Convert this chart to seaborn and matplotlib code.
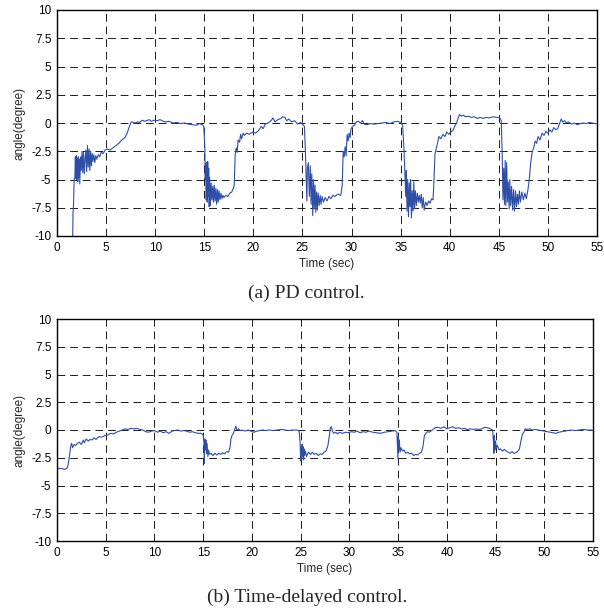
import pandas as pd
import matplotlib
matplotlib.use("Agg")
import matplotlib.pyplot as plt
import seaborn as sns


# (time, angle) samples
pd_points = [
    (1.60, -10.0), (1.63, -8.0), (1.68, -7.3), (1.75, -5.0), (1.82, -4.8), (1.87, -3.0), (1.92, -4.9),
    (1.97, -2.9), (2.02, -5.0), (2.07, -3.1), (2.12, -5.2), (2.17, -3.0), (2.22, -4.8), (2.27, -3.2),
    (2.32, -5.4), (2.40, -3.0), (2.47, -4.2), (2.55, -2.5), (2.62, -4.4), (2.70, -2.6), (2.78, -4.5),
    (2.86, -3.2), (2.94, -2.4), (3.02, -4.3), (3.10, -2.0), (3.18, -3.9), (3.26, -2.3), (3.34, -4.2),
    (3.42, -2.5), (3.50, -3.8), (3.58, -2.7), (3.66, -3.4), (3.75, -2.8), (3.85, -3.5), (3.95, -2.9),
    (4.05, -3.2), (4.2, -2.8), (4.35, -3.0), (4.5, -2.6), (4.7, -2.7), (4.9, -2.4), (5.1, -2.3),
    (5.4, -2.4), (5.7, -2.2), (6.0, -2.0), (6.3, -1.8), (6.6, -1.5), (6.9, -1.3), (7.1, -1.0),
    (7.3, -0.5), (7.5, 0.0), (7.6, 0.1), (7.8, 0.05), (8.0, 0.0), (8.2, 0.1), (8.4, 0.05), (8.7, 0.25),
    (8.9, 0.15), (9.1, 0.2), (9.4, 0.3), (9.6, 0.15), (9.9, 0.25), (10.2, 0.2), (10.5, 0.3), (10.8, 0.15),
    (11.1, 0.1), (11.4, 0.15), (11.8, 0.0), (12.2, 0.05), (12.6, -0.05), (13.0, 0.0), (13.4, -0.1),
    (13.8, -0.15), (14.2, -0.2), (14.5, -0.05), (14.8, -0.15), (14.95, -0.3),
    (15.05, -2.0), (15.1, -5.0), (15.15, -3.6), (15.2, -6.8), (15.25, -3.5), (15.3, -7.0), (15.35, -3.4),
    (15.4, -6.5), (15.45, -4.0), (15.5, -7.4), (15.55, -4.8), (15.62, -7.3), (15.7, -5.3), (15.78, -6.8),
    (15.86, -5.6), (15.94, -7.0), (16.02, -5.5), (16.1, -6.9), (16.18, -5.8), (16.26, -7.2), (16.34, -5.9),
    (16.42, -7.0), (16.5, -6.0), (16.6, -6.8), (16.7, -6.2), (16.8, -6.7), (16.9, -6.4), (17.0, -6.6),
    (17.2, -6.4), (17.4, -6.5), (17.6, -6.2), (17.8, -6.1), (17.95, -5.8), (18.05, -5.5), (18.15, -2.8),
    (18.25, -2.2), (18.35, -2.6), (18.45, -1.5), (18.6, -1.7), (18.7, -1.0), (18.8, -1.4), (18.95, -0.9),
    (19.1, -1.1), (19.3, -0.9), (19.6, -1.0), (19.9, -0.8), (20.2, -0.9), (20.5, -0.7), (20.8, -0.3),
    (21.0, -0.5), (21.2, -0.1), (21.5, 0.0), (21.8, 0.2), (22.0, 0.45), (22.2, 0.1), (22.5, 0.3),
    (22.8, 0.4), (23.0, 0.55), (23.2, 0.5), (23.4, 0.2), (23.6, 0.35), (23.9, 0.1), (24.2, 0.2),
    (24.5, -0.1), (24.8, 0.05), (25.1, -0.2), (25.2, -0.3),
    (25.3, -2.5), (25.4, -5.5), (25.45, -6.9), (25.5, -4.0), (25.6, -3.5), (25.7, -6.5), (25.8, -3.8),
    (25.88, -7.2), (25.95, -4.5), (26.05, -8.2), (26.12, -5.0), (26.2, -7.6), (26.28, -5.5), (26.36, -7.9),
    (26.44, -6.1), (26.52, -7.7), (26.6, -6.2), (26.7, -7.3), (26.8, -6.4), (26.9, -7.2), (27.0, -6.5),
    (27.15, -7.0), (27.3, -6.6), (27.5, -6.9), (27.7, -6.5), (27.9, -6.7), (28.1, -6.4), (28.3, -6.5),
    (28.6, -6.3), (28.9, -6.4), (29.05, -5.5), (29.15, -2.5), (29.25, -3.0), (29.35, -2.1), (29.45, -2.9),
    (29.55, -1.0), (29.65, -1.6), (29.75, -0.9), (29.85, -1.3), (29.95, -0.5), (30.1, -0.3), (30.3, -0.2),
    (30.5, 0.1), (30.7, 0.15), (30.9, 0.0), (31.1, 0.2), (31.3, -0.1), (31.6, -0.15), (31.9, -0.05),
    (32.3, -0.1), (32.7, -0.05), (33.1, 0.0), (33.5, 0.05), (33.9, -0.05), (34.3, 0.1), (34.7, 0.15),
    (35.0, 0.05), (35.2, -0.2),
    (35.35, -2.5), (35.45, -5.0), (35.52, -6.5), (35.58, -4.2), (35.65, -7.8), (35.72, -5.0), (35.8, -8.3),
    (35.88, -5.3), (35.95, -7.4), (36.02, -5.0), (36.1, -8.4), (36.18, -6.0), (36.26, -7.8), (36.34, -5.2),
    (36.42, -7.6), (36.5, -6.0), (36.6, -7.3), (36.7, -6.2), (36.8, -7.0), (36.9, -6.4), (37.0, -7.1),
    (37.1, -6.3), (37.2, -7.5), (37.3, -6.6), (37.4, -7.7), (37.55, -7.0), (37.7, -7.3), (37.85, -6.9),
    (38.0, -7.1), (38.15, -6.7), (38.3, -6.8), (38.4, -5.0), (38.5, -2.7), (38.6, -2.4), (38.75, -1.8),
    (38.9, -1.2), (39.1, -1.4), (39.3, -1.0), (39.5, -1.2), (39.7, -0.8), (39.9, -1.0), (40.1, -0.8),
    (40.3, -0.7), (40.5, -0.3), (40.7, 0.0), (40.85, 0.4), (41.0, 0.75), (41.2, 0.6), (41.4, 0.7),
    (41.6, 0.55), (41.9, 0.6), (42.2, 0.5), (42.5, 0.55), (42.8, 0.4), (43.1, 0.5), (43.4, 0.4),
    (43.7, 0.5), (44.0, 0.45), (44.4, 0.55), (44.8, 0.5), (45.1, 0.45), (45.25, 0.2),
    (45.35, -3.0), (45.42, -6.8), (45.5, -4.0), (45.58, -7.2), (45.65, -3.3), (45.72, -7.3), (45.8, -3.5),
    (45.88, -7.0), (45.96, -5.2), (46.05, -7.6), (46.12, -5.0), (46.2, -7.3), (46.3, -5.6), (46.4, -7.7),
    (46.5, -5.9), (46.6, -7.8), (46.7, -6.0), (46.8, -7.4), (46.9, -6.3), (47.0, -7.2), (47.1, -6.0),
    (47.2, -7.0), (47.35, -6.1), (47.5, -6.8), (47.65, -6.2), (47.8, -6.7), (47.95, -6.0), (48.1, -5.0),
    (48.25, -3.5), (48.4, -2.6), (48.55, -2.2), (48.7, -1.6), (48.85, -1.8), (49.0, -1.2), (49.2, -1.5),
    (49.4, -0.9), (49.6, -1.1), (49.8, -0.75), (50.0, -0.9), (50.2, -0.6), (50.4, -0.8), (50.6, -0.4),
    (50.8, -0.6), (51.0, -0.5), (51.2, 0.0), (51.35, 0.35), (51.5, 0.1), (51.7, 0.2), (51.9, 0.0),
    (52.1, 0.1), (52.4, -0.1), (52.7, 0.0), (53.0, -0.15), (53.3, -0.05), (53.6, 0.0), (53.9, -0.05),
    (54.2, 0.05), (54.5, 0.0), (54.8, -0.05), (55.0, -0.05),
]

# (time, angle) samples
tdc_points = [
    (0.0, -3.4), (0.2, -3.5), (0.4, -3.45), (0.6, -3.5), (0.8, -3.55), (1.0, -3.45), (1.1, -3.3),
    (1.2, -2.8), (1.3, -2.2), (1.4, -1.5), (1.5, -1.2), (1.6, -1.6), (1.75, -1.3), (1.9, -1.4),
    (2.1, -1.2), (2.3, -1.1), (2.5, -1.3), (2.7, -0.9), (2.8, -1.15), (3.0, -0.8), (3.2, -1.0),
    (3.4, -0.85), (3.6, -0.9), (3.8, -0.7), (4.0, -0.85), (4.3, -0.6), (4.6, -0.65), (4.9, -0.5),
    (5.2, -0.45), (5.5, -0.3), (5.8, -0.35), (6.1, -0.2), (6.4, -0.1), (6.7, 0.0), (7.0, 0.1),
    (7.3, 0.05), (7.6, 0.15), (7.9, 0.1), (8.2, 0.15), (8.5, 0.05), (8.8, 0.0), (9.1, -0.15),
    (9.4, -0.2), (9.7, -0.1), (10.0, -0.05), (10.3, -0.2), (10.6, -0.1), (10.9, -0.25), (11.2, -0.15),
    (11.5, -0.3), (11.8, -0.1), (12.1, -0.05), (12.4, 0.0), (12.7, -0.1), (13.0, -0.05), (13.3, -0.1),
    (13.6, -0.2), (13.9, -0.15), (14.2, -0.25), (14.5, -0.3), (14.8, -0.3), (15.0, -0.45),
    (15.08, -1.2), (15.12, -3.0), (15.16, -0.8), (15.22, -1.8), (15.28, -0.9), (15.34, -2.1), (15.4, -1.2),
    (15.48, -2.4), (15.56, -1.8), (15.65, -2.2), (15.8, -2.1), (16.0, -2.3), (16.2, -2.1), (16.4, -2.25),
    (16.6, -2.1), (16.8, -2.2), (17.0, -2.05), (17.2, -2.15), (17.4, -1.95), (17.6, -2.0), (17.75, -1.6),
    (17.85, -0.8), (17.95, -0.5), (18.1, -0.3), (18.25, 0.1), (18.35, 0.35), (18.45, 0.0), (18.6, 0.1),
    (18.8, -0.05), (19.0, 0.0), (19.3, -0.1), (19.6, 0.0), (19.9, -0.1), (20.2, -0.2), (20.5, -0.1),
    (20.8, -0.05), (21.1, 0.0), (21.4, -0.05), (21.8, 0.0), (22.2, -0.05), (22.6, 0.0), (23.0, 0.05),
    (23.4, 0.0), (23.8, -0.05), (24.2, 0.0), (24.6, 0.0), (24.85, -0.1),
    (24.95, -1.2), (25.0, -2.8), (25.05, -1.6), (25.1, -2.6), (25.15, -1.3), (25.2, -2.4), (25.25, -1.5),
    (25.3, -2.7), (25.35, -1.7), (25.4, -2.3), (25.5, -1.9), (25.6, -2.4), (25.8, -2.0), (26.0, -2.2),
    (26.2, -2.0), (26.4, -2.2), (26.6, -2.1), (26.8, -2.3), (27.0, -2.15), (27.2, -2.2), (27.4, -2.0),
    (27.6, -1.9), (27.8, -1.4), (27.95, -0.5), (28.05, 0.2), (28.15, 0.3), (28.25, -0.1), (28.4, -0.3),
    (28.6, -0.2), (28.8, -0.35), (29.0, -0.2), (29.3, -0.3), (29.6, -0.2), (29.9, -0.25), (30.2, -0.15),
    (30.5, -0.2), (30.8, -0.1), (31.1, -0.25), (31.4, -0.15), (31.7, -0.2), (32.0, -0.1), (32.4, -0.2),
    (32.8, -0.25), (33.2, -0.3), (33.6, -0.2), (34.0, -0.15), (34.4, -0.1), (34.7, -0.05), (34.88, -0.2),
    (34.93, -1.5), (34.98, -2.6), (35.03, -0.6), (35.08, -1.8), (35.13, -0.9), (35.2, -2.0), (35.3, -1.6),
    (35.45, -1.9), (35.6, -1.8), (35.8, -2.1), (36.0, -2.0), (36.2, -2.15), (36.4, -2.1), (36.6, -2.3),
    (36.8, -2.2), (37.0, -2.25), (37.2, -2.1), (37.4, -2.0), (37.55, -1.5), (37.7, -0.5), (37.85, -0.3),
    (38.0, -0.15), (38.2, -0.2), (38.5, 0.0), (38.8, 0.2), (39.1, 0.25), (39.4, 0.15), (39.7, 0.3),
    (40.0, 0.1), (40.3, 0.2), (40.6, 0.3), (40.9, 0.15), (41.2, 0.2), (41.5, 0.1), (41.8, 0.15),
    (42.1, 0.05), (42.4, 0.1), (42.7, 0.05), (43.0, 0.1), (43.3, 0.05), (43.6, 0.1), (43.9, 0.25),
    (44.2, 0.2), (44.5, 0.1), (44.7, 0.0),
    (44.78, -1.0), (44.83, -2.1), (44.88, -0.5), (44.93, -1.8), (45.0, -1.0), (45.08, -1.6), (45.2, -1.4),
    (45.35, -1.8), (45.5, -1.7), (45.7, -1.9), (45.9, -1.75), (46.1, -1.9), (46.3, -2.0), (46.5, -2.1),
    (46.7, -1.95), (46.9, -2.1), (47.1, -2.05), (47.3, -1.9), (47.45, -1.7), (47.6, -1.0), (47.75, -0.4),
    (47.9, -0.2), (48.05, 0.1), (48.2, 0.05), (48.5, 0.1), (48.8, 0.0), (49.1, 0.05), (49.4, 0.0),
    (49.7, -0.05), (50.0, -0.1), (50.3, -0.15), (50.6, -0.2), (50.9, -0.25), (51.2, -0.3), (51.5, -0.2),
    (51.8, -0.15), (52.1, -0.1), (52.4, -0.05), (52.8, 0.0), (53.2, -0.05), (53.6, 0.0), (54.0, 0.05),
    (54.4, 0.0), (54.8, 0.0), (55.0, -0.05),
]

x_ticks = [0, 5, 10, 15, 20, 25, 30, 35, 40, 45, 50, 55]
y_ticks = [10, 7.5, 5, 2.5, 0, -2.5, -5, -7.5, -10]
y_tick_labels = ["10", "7.5", "5", "2.5", "0", "-2.5", "-5", "-7.5", "-10"]

LINE_COLOR = "#2f4fa6"


def draw_panel(ax, points):
    data = pd.DataFrame(points, columns=["time", "angle"])
    sns.lineplot(data=data, x="time", y="angle", ax=ax, sort=False, estimator=None,
                 color=LINE_COLOR, linewidth=0.8)
    ax.set_xlim(0, 55)
    ax.set_ylim(-10, 10)
    ax.set_xticks(x_ticks)
    ax.set_xticklabels([str(t) for t in x_ticks])
    ax.set_yticks(y_ticks)
    ax.set_yticklabels(y_tick_labels)
    ax.grid(True, color="#1a1a1a", linestyle=(0, (8, 5)), linewidth=0.7)
    ax.tick_params(direction="in", length=3, labelsize=8.5, pad=4, colors="black")
    ax.set_xlabel("Time (sec)", fontsize=8.5, labelpad=3)
    ax.set_ylabel("angle(degree)", fontsize=8.5, labelpad=4)
    for spine in ax.spines.values():
        spine.set_color("black")
        spine.set_linewidth(1.0)


def main():
    sns.set_theme(style="white")
    plt.rcParams["font.family"] = ["Liberation Sans", "DejaVu Sans"]

    fig = plt.figure(figsize=(6.04, 6.12), dpi=100)
    ax_top = fig.add_axes([57 / 604, 1 - 236 / 612, 540 / 604, 226 / 612])
    ax_bottom = fig.add_axes([57 / 604, 1 - 541 / 612, 536 / 604, 222 / 612])

    draw_panel(ax_top, pd_points)
    draw_panel(ax_bottom, tdc_points)

    fig.text(306 / 604, 1 - 293 / 612, "(a) PD control.", ha="center", va="center",
             family="Liberation Serif", fontsize=14)
    fig.text(307 / 604, 1 - 597 / 612, "(b) Time-delayed control.", ha="center", va="center",
             family="Liberation Serif", fontsize=14)

    fig.savefig("out.png", dpi=100, facecolor="white")


if __name__ == "__main__":
    main()
